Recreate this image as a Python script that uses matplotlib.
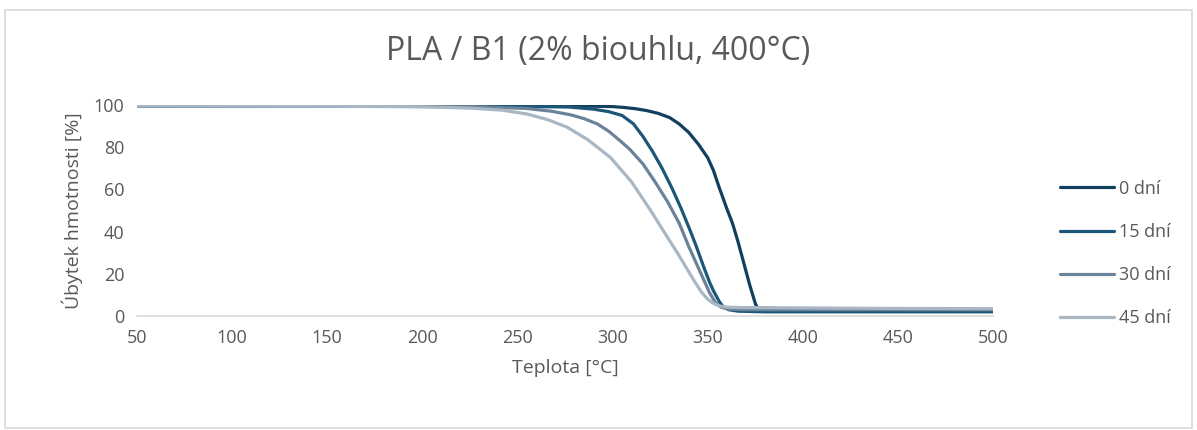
import matplotlib.pyplot as plt
from matplotlib.patches import Rectangle

plt.rcParams['font.family'] = ['Open Sans', 'DejaVu Sans']

# temperature [°C] and mass [%]
t_0 = [50, 150, 250, 290, 300, 306, 312, 318, 324, 330, 335, 340, 345, 350, 353, 356, 360, 363, 366, 369, 372, 375, 376, 400, 450, 500]
m_0 = [99.5, 99.5, 99.5, 99.4, 99.2, 98.8, 98.2, 97.3, 96, 94, 91, 87, 81.5, 75, 69, 61, 51, 44, 35, 25, 15, 6, 4, 3, 3, 3]

t_15 = [50, 150, 250, 277, 290, 298, 305, 311, 316, 321, 326, 331, 336, 341, 344, 348, 351, 353, 356, 358, 361, 366, 380, 450, 500]
m_15 = [99.5, 99.5, 99.3, 99, 98, 96.8, 95, 91, 85, 78, 70, 61, 51, 40, 33, 23, 16, 12, 7, 4.5, 3, 2.3, 2, 2, 2]

t_30 = [50, 150, 230, 255, 268, 278, 285, 292, 298, 304, 309, 316, 322, 329, 335, 340, 344, 348, 351, 354, 357, 361, 368, 450, 500]
m_30 = [99.5, 99.5, 99.1, 98.3, 97, 95.3, 93.5, 91, 87.5, 83, 79, 72, 64, 54, 44, 33, 25, 17, 11, 6.5, 4.2, 3.3, 3, 3, 3]

t_45 = [50, 150, 200, 225, 242, 255, 266, 276, 287, 299, 310, 320, 328, 334, 339, 343, 347, 350, 353, 356, 360, 368, 450, 500]
m_45 = [99.5, 99.4, 99.1, 98.5, 97.5, 95.7, 93, 89.5, 83.5, 75, 63.5, 50, 38.5, 30, 22.5, 16.5, 11, 8, 6, 4.8, 4.2, 4, 3.6, 3.5]

series = [(t_0, m_0, '0 dní', '#123F5E'),
          (t_15, m_15, '15 dní', '#1C5679'),
          (t_30, m_30, '30 dní', '#6A8399'),
          (t_45, m_45, '45 dní', '#A9B7C4')]

grey = '#595959'
fig = plt.figure(figsize=(11.97, 4.30), dpi=100)
ax = fig.add_axes([0.1145, 0.265, 0.7151, 0.491])
for t, m, lab, c in series:
    ax.plot(t, m, color=c, lw=2.3, label=lab, solid_capstyle='round',
            solid_joinstyle='round')

ax.set_xlim(50, 500)
ax.set_ylim(0, 100)
ax.set_xticks(range(50, 501, 50))
ax.set_yticks(range(0, 101, 20))
ax.tick_params(length=0, labelsize=13, colors=grey, pad=9)
for s in ['top', 'right', 'left']:
    ax.spines[s].set_visible(False)
ax.spines['bottom'].set_color('#D9D9D9')
ax.spines['bottom'].set_linewidth(1.2)
ax.set_xlabel('Teplota [°C]', fontsize=14, color=grey, labelpad=9)
ax.set_ylabel('Úbytek hmotnosti [%]', fontsize=14, color=grey, labelpad=8)

fig.text(0.5, 0.88, 'PLA / B1 (2% biouhlu, 400°C)', ha='center', va='center',
         fontsize=23, color=grey)

ax.legend(loc='upper left', bbox_to_anchor=(0.872, 0.62), bbox_transform=fig.transFigure,
          frameon=False, fontsize=13, labelspacing=1.4, handlelength=3.0,
          handletextpad=0.25, labelcolor=grey)

fig.patches.append(Rectangle((0.004, 0.005), 0.992, 0.972, transform=fig.transFigure,
                             fill=False, edgecolor='#D9D9D9', lw=1.2))

fig.savefig('out.png', dpi=100)
